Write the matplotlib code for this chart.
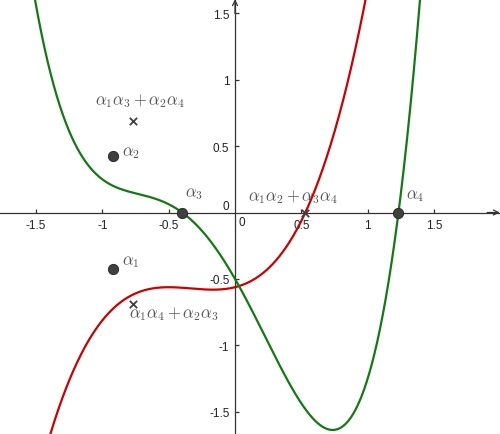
import numpy as np
import matplotlib
matplotlib.use("Agg")
import matplotlib.pyplot as plt

# ---- data ----
quartic_coeffs = [1.0, 1.0, -1.0, -1.75, -0.5]      # green curve
cubic_coeffs = [1.0, 1.0, 0.25, -0.5625]             # red curve (resolvent cubic)
alpha_x = [-0.917, -0.917, -0.398, 1.232]            # alpha_1 .. alpha_4
alpha_y = [-0.423, 0.423, 0.0, 0.0]
cross_x = [0.530, -0.765, -0.765]                    # a1a2+a3a4, a1a3+a2a4, a1a4+a2a3
cross_y = [0.0, 0.69, -0.69]
xticks = [-1.5, -1, -0.5, 0.5, 1, 1.5]
yticks = [-1.5, -1, -0.5, 0.5, 1, 1.5]
xtick_labels = ["-1.5", "-1", "-0.5", "0.5", "1", "1.5"]
ytick_labels = ["-1.5", "-1", "-0.5", "0.5", "1", "1.5"]

plt.rcParams['axes.unicode_minus'] = False
plt.rcParams['mathtext.fontset'] = 'cm'
plt.rcParams['font.family'] = ['Liberation Sans', 'DejaVu Sans']

fig = plt.figure(figsize=(5.0, 4.35), dpi=100)
ax = fig.add_axes([0, 0, 1, 1])
ax.set_xlim(-1.771, 1.997)
ax.set_ylim(-1.668, 1.608)

xs = np.linspace(-1.8, 2.0, 2000)
green = "#127a12"
red = "#cc0000"
ax.plot(xs, np.polyval(cubic_coeffs, xs), color=red, lw=1.6, zorder=3)
ax.plot(xs, np.polyval(quartic_coeffs, xs), color=green, lw=1.6, zorder=4)

# axes through origin
for s in ['top', 'right']:
    ax.spines[s].set_visible(False)
ax.spines['left'].set_position(('data', 0))
ax.spines['bottom'].set_position(('data', 0))
axcol = "#333333"
for s in ['left', 'bottom']:
    ax.spines[s].set_color(axcol)
    ax.spines[s].set_linewidth(0.9)
ax.set_xticks(xticks)
ax.set_xticklabels(xtick_labels)
ax.set_yticks(yticks)
ax.set_yticklabels(ytick_labels)
ax.tick_params(direction='in', length=3, width=0.9, color=axcol,
               labelsize=8.5, labelcolor="#222222", pad=4)
ax.tick_params(axis='x', pad=5)

# arrows at ends of axes
arrow = dict(arrowstyle='->', color=axcol, lw=0.9, mutation_scale=9,
             shrinkA=0, shrinkB=0)
ax.annotate('', xy=(0, 1.606), xytext=(0, 1.5), arrowprops=arrow)
ax.annotate('', xy=(1.995, 0), xytext=(1.9, 0), arrowprops=arrow)

# zero labels
ax.text(-0.07, 0.05, "0", fontsize=8.5, color="#222222", ha='center', va='center')
ax.text(0.05, -0.07, "0", fontsize=8.5, color="#222222", ha='center', va='center')

# points
ax.scatter(alpha_x, alpha_y, s=55, color="#404040", edgecolors="#222222",
           linewidths=0.6, zorder=6)
ax.scatter(cross_x, cross_y, s=28, marker='x', color="#404040", linewidths=1.3, zorder=6)

lab = dict(color="#555555", fontsize=12, va='center')
ax.text(-0.85, -0.365, r"$\alpha_1$", ha='left', **lab)
ax.text(-0.85, 0.455, r"$\alpha_2$", ha='left', **lab)
ax.text(-0.38, 0.15, r"$\alpha_3$", ha='left', **lab)
ax.text(1.285, 0.13, r"$\alpha_4$", ha='left', **lab)
ax.text(0.098, 0.124, r"$\alpha_1\alpha_2+\alpha_3\alpha_4$", ha='left', **lab)
ax.text(-0.716, 0.845, r"$\alpha_1\alpha_3+\alpha_2\alpha_4$", ha='center', **lab)
ax.text(-0.80, -0.757, r"$\alpha_1\alpha_4+\alpha_2\alpha_3$", ha='left', **lab)

fig.savefig("out.png", dpi=100)
